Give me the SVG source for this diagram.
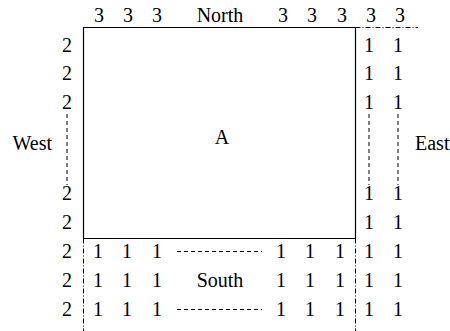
<svg xmlns="http://www.w3.org/2000/svg" width="450" height="331" viewBox="0 0 450 331">
<style>
text{font-family:"Liberation Serif","Times New Roman","DejaVu Serif",serif;font-size:20px;fill:#000;text-anchor:middle}
.solid{stroke:#000;stroke-width:1.2;fill:none}
.dd{stroke:#000;stroke-width:1;fill:none;stroke-dasharray:5,2,1,2}
.dash{stroke:#000;stroke-width:1;fill:none;stroke-dasharray:4,3}
</style>
<g id="connectors">
<path class="solid" d="M83.5,27.5H355.5V238.5H83.5Z"/>
<path class="dd" d="M355.5,27.5H418"/>
<path class="dd" d="M355.5,238.5V331"/>
<path class="dd" d="M83.5,238.5V331"/>
<path class="dash" d="M67,114V185M369,114V185M398,114V185"/>
<path class="dash" d="M177,251.5H262M177,309.5H262"/>
</g>
<g id="A"><text x="222" y="144">A</text></g>
<g id="north">
<text x="99" y="21.5">3</text><text x="128" y="21.5">3</text><text x="157" y="21.5">3</text>
<text x="220" y="21.5">North</text>
<text x="283" y="21.5">3</text><text x="312" y="21.5">3</text><text x="342" y="21.5">3</text>
<text x="371" y="21.5">3</text><text x="400" y="21.5">3</text>
</g>
<g id="west">
<text x="67" y="52">2</text><text x="67" y="80">2</text><text x="67" y="109">2</text>
<text x="67" y="200">2</text><text x="67" y="229">2</text>
<text x="67" y="258">2</text><text x="67" y="287">2</text><text x="67" y="316">2</text>
<text x="52" y="150" style="text-anchor:end">West</text>
</g>
<g id="east">
<text x="369" y="52">1</text><text x="398" y="52">1</text>
<text x="369" y="80">1</text><text x="398" y="80">1</text>
<text x="369" y="109">1</text><text x="398" y="109">1</text>
<text x="369" y="200">1</text><text x="398" y="200">1</text>
<text x="369" y="229">1</text><text x="398" y="229">1</text>
<text x="369" y="258">1</text><text x="398" y="258">1</text>
<text x="369" y="287">1</text><text x="398" y="287">1</text>
<text x="369" y="316">1</text><text x="398" y="316">1</text>
<text x="415" y="150" style="text-anchor:start">East</text>
</g>
<g id="south">
<text x="98" y="258">1</text><text x="127" y="258">1</text><text x="157" y="258">1</text>
<text x="281" y="258">1</text><text x="310" y="258">1</text><text x="340" y="258">1</text>
<text x="98" y="287">1</text><text x="127" y="287">1</text><text x="157" y="287">1</text>
<text x="220" y="287">South</text>
<text x="281" y="287">1</text><text x="310" y="287">1</text><text x="340" y="287">1</text>
<text x="98" y="316">1</text><text x="127" y="316">1</text><text x="157" y="316">1</text>
<text x="281" y="316">1</text><text x="310" y="316">1</text><text x="340" y="316">1</text>
</g>
</svg>
